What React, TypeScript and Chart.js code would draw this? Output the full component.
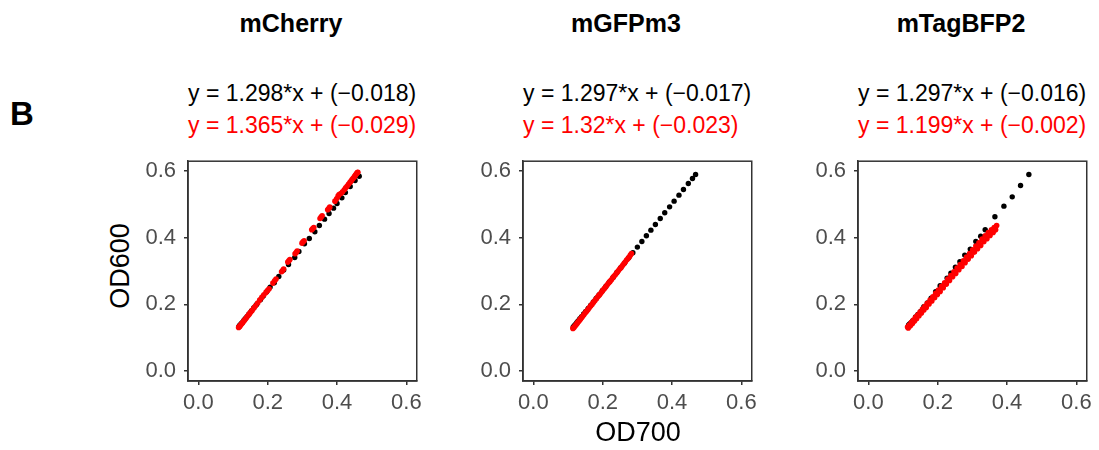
import React, { useEffect, useRef } from "react";
import { Chart, registerables } from "chart.js";

Chart.register(...registerables);

const FONT = "'Liberation Sans', Arial, Helvetica, sans-serif";

const panelNames = ["mCherry", "mGFPm3", "mTagBFP2"];
const blackEquations = [
  "y = 1.298*x + (\u22120.018)",
  "y = 1.297*x + (\u22120.017)",
  "y = 1.297*x + (\u22120.016)",
];
const redEquations = [
  "y = 1.365*x + (\u22120.029)",
  "y = 1.32*x + (\u22120.023)",
  "y = 1.199*x + (\u22120.002)",
];
const xAxisTitle = "OD700";
const yAxisTitle = "OD600";
const panelLetter = "B";

const tickValues = [0, 0.2, 0.4, 0.6];
const tickLabels = ["0.0", "0.2", "0.4", "0.6"];
const AXIS_MIN = -0.03;
const AXIS_MAX = 0.63;

// mCherry
const mCherryBlack = [
  [0.117, 0.134], [0.119, 0.137], [0.121, 0.139], [0.124, 0.143], [0.127, 0.146],
  [0.131, 0.152], [0.135, 0.157], [0.14, 0.163], [0.146, 0.171], [0.153, 0.18],
  [0.16, 0.19], [0.168, 0.2], [0.179, 0.214], [0.187, 0.225], [0.197, 0.238],
  [0.207, 0.252], [0.219, 0.265], [0.232, 0.284], [0.246, 0.303], [0.26, 0.32],
  [0.278, 0.341], [0.29, 0.359], [0.306, 0.382], [0.32, 0.398], [0.336, 0.418],
  [0.349, 0.437], [0.364, 0.456], [0.377, 0.473], [0.39, 0.489], [0.4, 0.503],
  [0.414, 0.52], [0.424, 0.536], [0.438, 0.554], [0.452, 0.572], [0.464, 0.585],
];
const mCherryRed = [
  [0.116, 0.131], [0.118, 0.133], [0.12, 0.135], [0.122, 0.138], [0.125, 0.142],
  [0.128, 0.146], [0.131, 0.15], [0.134, 0.154], [0.138, 0.159], [0.142, 0.165],
  [0.146, 0.17], [0.15, 0.176], [0.155, 0.182], [0.16, 0.189], [0.165, 0.196],
  [0.171, 0.204], [0.177, 0.213], [0.183, 0.221], [0.189, 0.229], [0.195, 0.236],
  [0.2, 0.242], [0.204, 0.247], [0.215, 0.264], [0.22, 0.271], [0.224, 0.276],
  [0.24, 0.298], [0.243, 0.302], [0.246, 0.306], [0.258, 0.327], [0.261, 0.331],
  [0.264, 0.335], [0.279, 0.352], [0.282, 0.356], [0.285, 0.36], [0.299, 0.384],
  [0.302, 0.388], [0.305, 0.391], [0.327, 0.424], [0.33, 0.428], [0.333, 0.431],
  [0.351, 0.458], [0.354, 0.462], [0.357, 0.466], [0.373, 0.484], [0.376, 0.488],
  [0.379, 0.492], [0.394, 0.51], [0.399, 0.517], [0.403, 0.525], [0.406, 0.53],
  [0.411, 0.533], [0.416, 0.538], [0.421, 0.544], [0.425, 0.55], [0.429, 0.555],
  [0.433, 0.561], [0.437, 0.566], [0.44, 0.57], [0.443, 0.574], [0.446, 0.578],
  [0.449, 0.582], [0.451, 0.585], [0.453, 0.588], [0.455, 0.591], [0.457, 0.594],
  [0.459, 0.596], [0.46, 0.597],
];

// mGFPm3
const mGFPm3Black = [
  [0.115, 0.132], [0.118, 0.136], [0.121, 0.14], [0.125, 0.145], [0.129, 0.15],
  [0.134, 0.157], [0.139, 0.163], [0.145, 0.171], [0.151, 0.179], [0.158, 0.188],
  [0.165, 0.197], [0.173, 0.207], [0.181, 0.218], [0.19, 0.229], [0.199, 0.241],
  [0.209, 0.254], [0.219, 0.267], [0.23, 0.281], [0.241, 0.296], [0.252, 0.31],
  [0.263, 0.324], [0.275, 0.34], [0.287, 0.355], [0.3, 0.372], [0.313, 0.389],
  [0.326, 0.406], [0.339, 0.423], [0.352, 0.44], [0.366, 0.458], [0.379, 0.475],
  [0.393, 0.493], [0.406, 0.51], [0.42, 0.528], [0.433, 0.545], [0.447, 0.563],
  [0.459, 0.578], [0.468, 0.59],
];
const mGFPm3Red = [
  [0.114, 0.128], [0.117, 0.131], [0.12, 0.135], [0.123, 0.139], [0.126, 0.143],
  [0.129, 0.147], [0.132, 0.151], [0.135, 0.155], [0.138, 0.159], [0.141, 0.163],
  [0.145, 0.168], [0.149, 0.174], [0.153, 0.179], [0.157, 0.184], [0.161, 0.19],
  [0.165, 0.195], [0.169, 0.2], [0.173, 0.206], [0.177, 0.211], [0.181, 0.216],
  [0.185, 0.222], [0.189, 0.227], [0.193, 0.232], [0.197, 0.237], [0.201, 0.243],
  [0.205, 0.248], [0.209, 0.253], [0.213, 0.259], [0.217, 0.264], [0.221, 0.269],
  [0.225, 0.274], [0.229, 0.28], [0.233, 0.285], [0.237, 0.29], [0.241, 0.296],
  [0.245, 0.301], [0.249, 0.306], [0.253, 0.311], [0.257, 0.317], [0.261, 0.322],
  [0.265, 0.327], [0.269, 0.333], [0.273, 0.338], [0.277, 0.343], [0.28, 0.348],
  [0.283, 0.353],
];

// mTagBFP2
const mTagBFP2Black = [
  [0.116, 0.138], [0.119, 0.141], [0.123, 0.145], [0.128, 0.151], [0.136, 0.162],
  [0.143, 0.17], [0.151, 0.179], [0.16, 0.193], [0.17, 0.204], [0.181, 0.219],
  [0.194, 0.238], [0.207, 0.256], [0.227, 0.279], [0.238, 0.294], [0.251, 0.312],
  [0.264, 0.328], [0.278, 0.348], [0.294, 0.366], [0.31, 0.389], [0.324, 0.405],
  [0.337, 0.424], [0.365, 0.463], [0.391, 0.495], [0.415, 0.523], [0.439, 0.557],
  [0.463, 0.59],
];
const mTagBFP2Red = [
  [0.113, 0.132], [0.118, 0.138], [0.124, 0.146], [0.13, 0.153], [0.136, 0.161],
  [0.142, 0.168], [0.149, 0.177], [0.156, 0.186], [0.163, 0.194], [0.17, 0.203],
  [0.178, 0.213], [0.186, 0.223], [0.194, 0.233], [0.202, 0.243], [0.211, 0.254],
  [0.22, 0.265], [0.229, 0.276], [0.238, 0.287], [0.247, 0.298], [0.256, 0.309],
  [0.265, 0.32], [0.274, 0.331], [0.283, 0.342], [0.292, 0.353], [0.301, 0.364],
  [0.31, 0.375], [0.319, 0.385], [0.328, 0.396], [0.337, 0.406], [0.346, 0.416],
  [0.355, 0.424], [0.363, 0.431], [0.37, 0.437],
  [0.115, 0.129], [0.121, 0.136], [0.127, 0.143], [0.133, 0.15], [0.139, 0.157],
  [0.146, 0.166], [0.153, 0.174], [0.16, 0.183], [0.167, 0.191], [0.175, 0.201],
  [0.183, 0.21], [0.191, 0.22], [0.199, 0.23], [0.207, 0.239], [0.216, 0.25],
  [0.225, 0.261], [0.234, 0.272], [0.243, 0.283], [0.252, 0.293], [0.261, 0.304],
  [0.27, 0.314], [0.279, 0.325], [0.288, 0.336], [0.297, 0.346], [0.306, 0.357],
  [0.315, 0.367], [0.324, 0.377], [0.333, 0.388], [0.342, 0.397], [0.351, 0.407],
  [0.36, 0.416], [0.367, 0.424],
];

const blackSeries = [mCherryBlack, mGFPm3Black, mTagBFP2Black];
const redSeries = [mCherryRed, mGFPm3Red, mTagBFP2Red];

// layout (pixels)
const panelLefts = [188, 523, 858];
const PLOT_W = 231;
const PLOT_H = 230;
const PLOT_TOP = 151;
const Y_AXIS_W = 50;
const X_AXIS_H = 40;
const PAD_TOP = 11;
const PAD_RIGHT = 8;

const boxPlugin = {
  id: "panelBox",
  afterDatasetsDraw(chart: any) {
    const { ctx, chartArea } = chart;
    ctx.save();
    ctx.strokeStyle = "#333333";
    ctx.lineWidth = 1.5;
    ctx.strokeRect(
      chartArea.left,
      chartArea.top,
      chartArea.right - chartArea.left,
      chartArea.bottom - chartArea.top
    );
    ctx.restore();
  },
};

function axisOptions(isX: boolean) {
  return {
    type: "linear",
    min: AXIS_MIN,
    max: AXIS_MAX,
    afterBuildTicks: (scale: any) => {
      scale.ticks = tickValues.map((v) => ({ value: v }));
    },
    afterFit: (scale: any) => {
      if (isX) scale.height = X_AXIS_H;
      else scale.width = Y_AXIS_W;
    },
    ticks: {
      callback: (_v: any, i: number) => tickLabels[i],
      color: "#4D4D4D",
      font: { family: FONT, size: 22 },
      padding: isX ? 5 : 8,
      autoSkip: false,
      maxRotation: 0,
      minRotation: 0,
    },
    grid: {
      display: true,
      drawOnChartArea: false,
      drawTicks: true,
      tickLength: 4,
      color: "#333333",
      lineWidth: 1.5,
    },
    border: { display: true, color: "#333333", width: 1.5 },
  };
}

function Panel({ index }: { index: number }) {
  const ref = useRef<HTMLCanvasElement | null>(null);
  useEffect(() => {
    if (!ref.current) return;
    const chart = new Chart(ref.current, {
      type: "scatter",
      data: {
        datasets: [
          {
            data: redSeries[index].map(([x, y]) => ({ x, y })),
            backgroundColor: "#FF0000",
            borderWidth: 0,
            pointRadius: 2.8,
            pointHoverRadius: 2.8,
          },
          {
            data: blackSeries[index].map(([x, y]) => ({ x, y })),
            backgroundColor: "#000000",
            borderWidth: 0,
            pointRadius: 2.7,
            pointHoverRadius: 2.7,
          },
        ],
      },
      options: {
        animation: false,
        responsive: false,
        events: [],
        layout: { padding: { top: PAD_TOP, right: PAD_RIGHT, left: 0, bottom: 0 } },
        plugins: { legend: { display: false }, tooltip: { enabled: false } },
        scales: { x: axisOptions(true) as any, y: axisOptions(false) as any },
      },
      plugins: [boxPlugin],
    });
    return () => chart.destroy();
  }, [index]);
  const w = Y_AXIS_W + PLOT_W + PAD_RIGHT;
  const h = PAD_TOP + PLOT_H + X_AXIS_H;
  return (
    <canvas
      ref={ref}
      width={w}
      height={h}
      style={{
        position: "absolute",
        left: panelLefts[index] - Y_AXIS_W,
        top: PLOT_TOP - PAD_TOP,
        width: w,
        height: h,
        display: "block",
      }}
    />
  );
}

const textBase: React.CSSProperties = {
  position: "absolute",
  lineHeight: 1,
  whiteSpace: "nowrap",
  fontFamily: FONT,
};

export default function App() {
  return (
    <div
      style={{
        position: "absolute",
        left: 0,
        top: 0,
        width: 1099,
        height: 450,
        background: "#FFFFFF",
        overflow: "hidden",
        fontFamily: FONT,
      }}
    >
      <div style={{ ...textBase, left: 10, top: 97, fontSize: 33, fontWeight: "bold", color: "#000" }}>
        {panelLetter}
      </div>
      {panelNames.map((name, i) => (
        <React.Fragment key={name}>
          <div
            style={{
              ...textBase,
              left: panelLefts[i] + 103,
              top: 11,
              transform: "translateX(-50%)",
              fontSize: 25,
              fontWeight: "bold",
              color: "#000",
            }}
          >
            {name}
          </div>
          <div style={{ ...textBase, left: panelLefts[i], top: 81.5, fontSize: 23, color: "#000" }}>
            {blackEquations[i]}
          </div>
          <div style={{ ...textBase, left: panelLefts[i], top: 113.5, fontSize: 23, color: "#FF0000" }}>
            {redEquations[i]}
          </div>
          <Panel index={i} />
        </React.Fragment>
      ))}
      <div
        style={{
          ...textBase,
          left: 120,
          top: 266,
          transform: "translate(-50%, -50%) rotate(-90deg)",
          fontSize: 27,
          color: "#000",
        }}
      >
        {yAxisTitle}
      </div>
      <div
        style={{
          ...textBase,
          left: 638,
          top: 419,
          transform: "translateX(-50%)",
          fontSize: 27,
          color: "#000",
        }}
      >
        {xAxisTitle}
      </div>
    </div>
  );
}
